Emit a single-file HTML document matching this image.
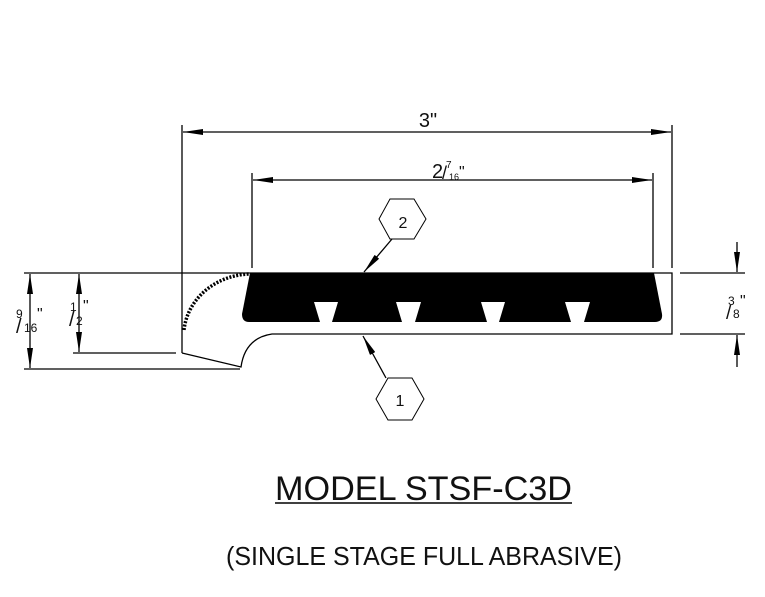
<!DOCTYPE html>
<html><head><meta charset="utf-8"><style>
html,body{margin:0;padding:0;background:#fff;width:765px;height:597px;overflow:hidden}
svg{display:block}
text{font-family:"Liberation Sans",sans-serif;fill:#111}
</style></head><body>
<svg width="765" height="597" viewBox="0 0 765 597" xmlns="http://www.w3.org/2000/svg">
<defs>
<marker id="a" viewBox="0 0 20 6" refX="20" refY="3" markerWidth="20" markerHeight="6" markerUnits="userSpaceOnUse" orient="auto-start-reverse">
<path d="M20,3 L0,0 L0,6 Z" fill="#000"/></marker>
</defs>
<g stroke="#000" stroke-width="1.3" fill="none">
<line x1="182" y1="125" x2="182" y2="353"/>
<line x1="672" y1="125" x2="672" y2="268"/>
<line x1="183" y1="132" x2="671" y2="132" marker-start="url(#a)" marker-end="url(#a)"/>
<line x1="252" y1="173" x2="252" y2="268"/>
<line x1="653" y1="173" x2="653" y2="268"/>
<line x1="253" y1="180" x2="652" y2="180" marker-start="url(#a)" marker-end="url(#a)"/>
<line x1="24" y1="273" x2="250" y2="273"/>
<line x1="24" y1="369" x2="240" y2="369"/>
<line x1="30" y1="274" x2="30" y2="368" marker-start="url(#a)" marker-end="url(#a)"/>
<line x1="73" y1="353" x2="176" y2="353"/>
<line x1="79" y1="274" x2="79" y2="352" marker-start="url(#a)" marker-end="url(#a)"/>
<line x1="680" y1="273" x2="745" y2="273"/>
<line x1="680" y1="334" x2="745" y2="334"/>
<line x1="737" y1="242" x2="737" y2="272" marker-end="url(#a)"/>
<line x1="737" y1="367" x2="737" y2="335" marker-end="url(#a)"/>
<path d="M250,273 L672,273 L672,334 L272,334 Q245,338 241,367 L182,353"/>
<path d="M184,330 A68,62 0 0 1 250,274" stroke-width="3.5" stroke-dasharray="2,1.5"/>
<line x1="392" y1="239" x2="364" y2="272" marker-end="url(#a)"/>
<line x1="386" y1="378" x2="363" y2="336" marker-end="url(#a)"/>
<polygon points="379,219 390,199 414,199 426,219 414,239 390,239" stroke-width="1"/>
<polygon points="376,399 388,378 412,378 424,399 412,420 388,420" stroke-width="1"/>
</g>
<path fill="#000" d="M250,273 L654,273 L662,314 Q663,322 655,322 L249,322 Q242,322 242,314 Z"/>
<path fill="#fff" d="M314,302 L338,302 L332,322 L320,322 Z M396,302 L421,302 L415,322 L402,322 Z M481,302 L505,302 L499,322 L487,322 Z M565,302 L590,302 L584,322 L571,322 Z"/>
<text x="428" y="127" font-size="20" text-anchor="middle">3"</text>
<text x="432" y="178" font-size="20">2</text>
<text x="446" y="168" font-size="10">7</text>
<text x="442" y="179" font-size="18">/</text>
<text x="449" y="180" font-size="9">16</text>
<text x="459" y="177" font-size="16">"</text>
<text x="403" y="228" font-size="16" text-anchor="middle">2</text>
<text x="400" y="406" font-size="16" text-anchor="middle">1</text>
<text x="16" y="318" font-size="12">9</text>
<text x="16" y="333" font-size="20">/</text>
<text x="24" y="332" font-size="12">16</text>
<text x="37" y="319" font-size="16">"</text>
<text x="70" y="311" font-size="12">1</text>
<text x="69" y="326" font-size="20">/</text>
<text x="76" y="325" font-size="12">2</text>
<text x="83" y="311" font-size="16">"</text>
<text x="728" y="305" font-size="12">3</text>
<text x="726" y="319" font-size="19">/</text>
<text x="733" y="318" font-size="12">8</text>
<text x="740" y="306" font-size="16">"</text>
<text x="275" y="500" font-size="34" textLength="297" lengthAdjust="spacingAndGlyphs">MODEL STSF-C3D</text>
<line x1="275" y1="503" x2="572" y2="503" stroke="#000" stroke-width="1.6"/>
<text x="226" y="565" font-size="26" textLength="396" lengthAdjust="spacingAndGlyphs">(SINGLE STAGE FULL ABRASIVE)</text>
</svg>
</body></html>
